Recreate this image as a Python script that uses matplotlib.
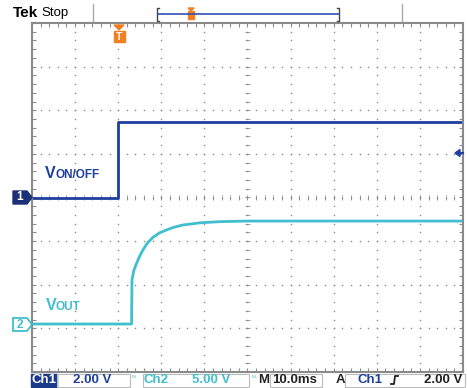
import matplotlib.pyplot as plt
import numpy as np
from matplotlib.patches import Polygon, Rectangle

plt.rcParams['font.family'] = ['Liberation Sans', 'DejaVu Sans']

# scope settings
ch1_scale = 2.0      # V/div
ch2_scale = 5.0      # V/div
ch1_offset = 0.0     # div
ch2_offset = -2.9    # div

# Ch1: V_ON/OFF step (ms, V)
t1 = [-20, 0, 0, 80]
v1 = [0.0, 0.0, 3.44, 3.44]

# Ch2: V_OUT ramp (ms, V)
t2 = [-20, 3.1, 3.2, 3.6, 4.3, 5.0, 5.75, 6.8, 8.1, 9.6, 11.3, 13.0, 15.0, 19.0, 23.6, 30.0, 80]
v2 = [0.0, 0.0, 5.05, 6.1, 7.0, 7.8, 8.5, 9.3, 9.95, 10.45, 10.8, 11.1, 11.35, 11.6, 11.73, 11.8, 11.8]

blue = "#1f3f9f"
teal = "#3fbfcf"
grey = "#8a8a8a"

W, H = 467, 388
fig = plt.figure(figsize=(W / 100, H / 100), dpi=100)

# plot area in pixels
L, R, T, B = 32, 463, 23, 372
ax = fig.add_axes([L / W, 1 - B / H, (R - L) / W, (B - T) / H])
ax.set_xlim(-20, 80)
ax.set_ylim(-4, 4)
ax.set_xticks([])
ax.set_yticks([])
for s in ax.spines.values():
    s.set_color(grey)
    s.set_linewidth(1.5)

# dotted graticule
yy = np.arange(-4, 4.01, 0.2)
xx = np.arange(-20, 80.01, 2)
for gx in range(-10, 80, 10):
    ax.plot([gx] * len(yy), yy, ls="none", marker="s", ms=1.0, color=grey, mew=0)
for gy in range(-3, 4):
    ax.plot(xx, [gy] * len(xx), ls="none", marker="s", ms=1.0, color=grey, mew=0)
# centre cross ticks
ax.hlines(yy, 29.5, 30.5, color=grey, lw=0.6)
ax.vlines(xx, -0.05, 0.05, color=grey, lw=0.6)
# edge ticks
ax.vlines(xx, 3.9, 4, color=grey, lw=0.8)
ax.vlines(xx, -4, -3.9, color=grey, lw=0.8)
ax.hlines(yy, -20, -19.1, color=grey, lw=0.8)
ax.hlines(yy, 79.1, 80, color=grey, lw=0.8)

# traces
ax.plot(t2, np.array(v2) / ch2_scale + ch2_offset, color=teal, lw=2.0)
ax.plot(t1, np.array(v1) / ch1_scale + ch1_offset, color=blue, lw=2.0)

# overlay in pixel coordinates
ov = fig.add_axes([0, 0, 1, 1])
ov.set_xlim(0, W)
ov.set_ylim(H, 0)
ov.axis("off")

# top bar
ov.text(13, 13, "Tek", fontsize=11, fontweight="bold", va="center", ha="left")
ov.text(41, 13, "Stop", fontsize=9.5, va="center", ha="left")
ov.plot([93, 93], [4, 21], color="#aaaaaa", lw=1)
ov.plot([402, 402], [4, 21], color="#aaaaaa", lw=1)
ov.plot([159, 157, 157, 159], [8, 8, 21, 21], color="#444444", lw=1)
ov.plot([337, 339, 339, 337], [8, 8, 21, 21], color="#444444", lw=1)
ov.plot([158, 338], [14, 14], color="#3050b0", lw=1.2)
ov.add_patch(Polygon([[188, 8], [194, 8], [191, 11]], color="#f08020"))
ov.add_patch(Rectangle((188, 11), 6, 8, color="#f08020"))

# trigger position marker
ov.add_patch(Polygon([[114, 25], [124, 25], [119, 30]], color="#f08020"))
ov.add_patch(Rectangle((113.5, 31), 11, 11, color="#f08020"))
ov.text(119, 36.5, "T", color="white", fontsize=7.5, fontweight="bold", ha="center", va="center")

# trigger level arrow
ov.add_patch(Polygon([[455, 153], [460, 149.5], [460, 156.5]], color=blue))
ov.plot([459, 463], [153, 153], color=blue, lw=1.5)

# channel ground markers
ov.add_patch(Polygon([[13, 191], [27, 191], [32, 197.5], [27, 204], [13, 204]], color="#1c2f78"))
ov.text(19.5, 197.5, "1", color="white", fontsize=8.5, fontweight="bold", ha="center", va="center")
ov.add_patch(Polygon([[13, 318], [27, 318], [32, 324.5], [27, 331], [13, 331]],
                     facecolor="white", edgecolor=teal, lw=1.3))
ov.text(19.5, 324.5, "2", color=teal, fontsize=8.5, fontweight="bold", ha="center", va="center")

# signal labels
ov.text(45, 178.5, "V", color=blue, fontsize=11.5, fontweight="bold", ha="left", va="baseline")
ov.text(55, 178.5, "ON/OFF", color=blue, fontsize=8.5, fontweight="bold", ha="left", va="baseline")
ov.text(46, 310, "V", color=teal, fontsize=11.5, fontweight="bold", ha="left", va="baseline")
ov.text(56, 310, "OUT", color=teal, fontsize=8.5, fontweight="bold", ha="left", va="baseline")

# status bar
ty = 380
fs = 9.5
ov.add_patch(Rectangle((31, 373.5), 26, 13, color="#1c3a8c"))
ov.text(44, ty, "Ch1", color="white", fontsize=fs, fontweight="bold", ha="center", va="center")
for x0, x1 in [(57, 130), (143, 249), (270, 322), (345, 465)]:
    ov.add_patch(Rectangle((x0, 373.5), x1 - x0, 13, fill=False, edgecolor="#bbbbbb", lw=0.8))
ov.text(73, ty, "2.00 V", color=blue, fontsize=fs, fontweight="bold", ha="left", va="center")
ov.text(132, ty - 1, "ᴺ", color=teal, fontsize=6, ha="left", va="center", family="DejaVu Sans")
ov.text(144, ty, "Ch2", color=teal, fontsize=fs, fontweight="bold", ha="left", va="center")
ov.text(192, ty, "5.00 V", color=teal, fontsize=fs, fontweight="bold", ha="left", va="center")
ov.text(251, ty - 1, "ᴺ", color=teal, fontsize=6, ha="left", va="center", family="DejaVu Sans")
ov.text(258, ty, "M", color="#222222", fontsize=fs, fontweight="bold", ha="left", va="center")
ov.text(272, ty, "10.0ms", color="#222222", fontsize=fs, fontweight="bold", ha="left", va="center")
ov.text(336, ty, "A", color="#222222", fontsize=fs, fontweight="bold", ha="left", va="center")
ov.text(357, ty, "Ch1", color=blue, fontsize=fs, fontweight="bold", ha="left", va="center")
ov.plot([391, 394, 395, 398], [384, 384, 376, 376], color="#222222", lw=1.3)
ov.text(462, ty, "2.00 V", color="#222222", fontsize=fs, fontweight="bold", ha="right", va="center")

fig.savefig("out.png", dpi=100)
